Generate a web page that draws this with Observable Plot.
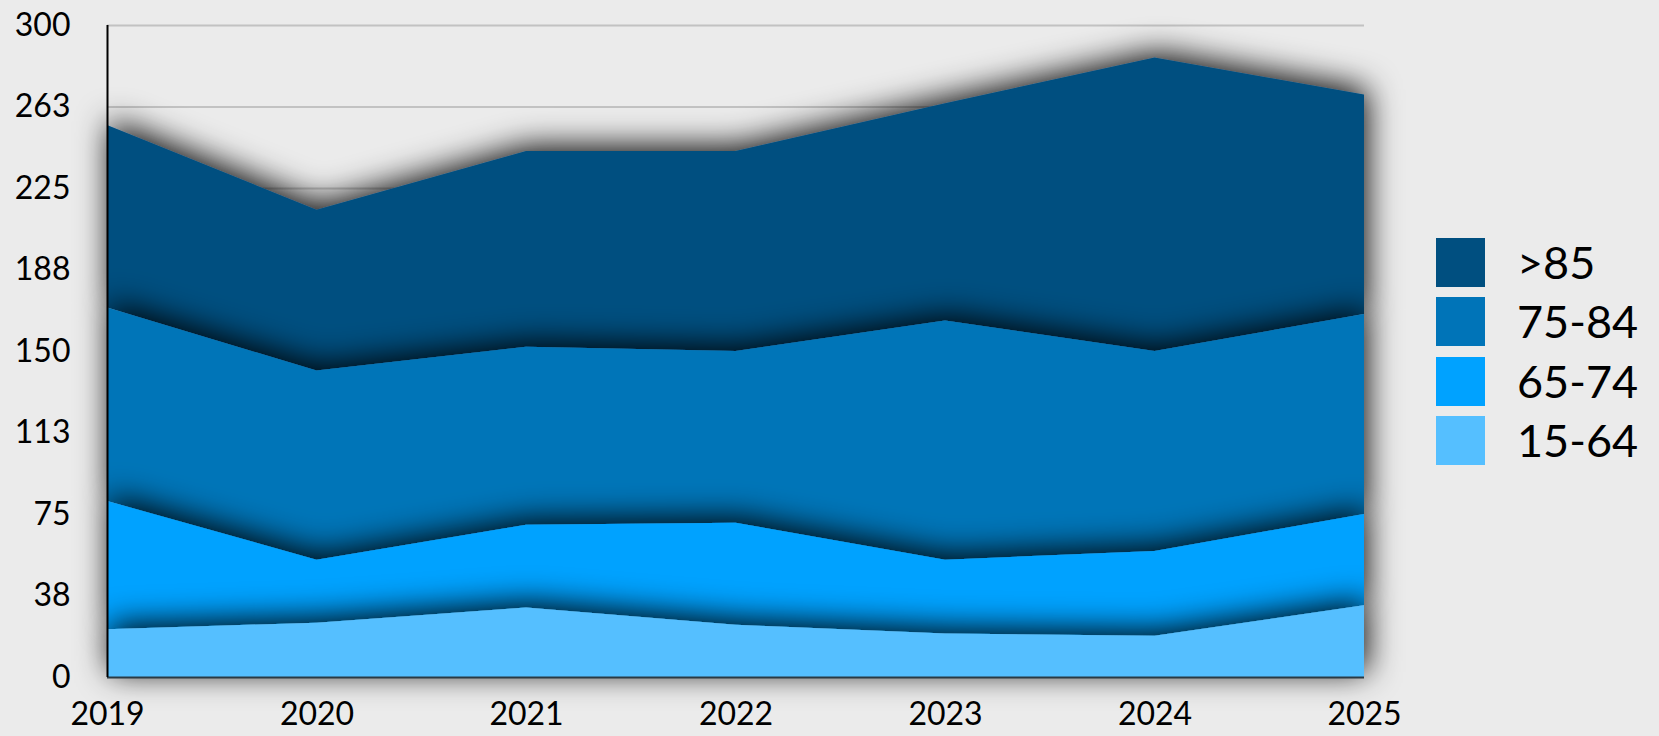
<!DOCTYPE html>
<html>
<head>
<meta charset="utf-8">
<script src="https://cdn.jsdelivr.net/npm/d3@7"></script>
<script src="https://cdn.jsdelivr.net/npm/@observablehq/plot@0.6"></script>
<style>
  html, body { margin: 0; padding: 0; background: #ebebeb; }
  #wrap { position: relative; width: 1659px; height: 736px; overflow: hidden; font-family: Lato, "Noto Sans", sans-serif; }
  #chart { position: absolute; left: 0; top: 0; }
  .lg { position: absolute; left: 1436px; display: flex; align-items: center; }
  .lg .sw { width: 49px; height: 49px; }
  .lg .tx { margin-left: 32px; font-size: 45px; color: #000; line-height: 49px; }
</style>
</head>
<body>
<div id="wrap"><div id="chart"></div><div id="legend"></div></div>
<script>
// Data
const years = [2019, 2020, 2021, 2022, 2023, 2024, 2025];
const series = [">85", "75-84", "65-74", "15-64"];
const v85plus = [84, 74, 90, 92, 100, 135, 101];
const v75_84 = [89, 87, 82, 79, 110, 92, 92];
const v65_74 = [59, 29, 38, 47, 34, 39, 42];
const v15_64 = [22, 25, 32, 24, 20, 19, 33];
const colors = ["#004f80", "#0074b8", "#00a2ff", "#55bfff"];
const yTicks = [0, 37.5, 75, 112.5, 150, 187.5, 225, 262.5, 300];

// stack bottom-up: 15-64, 65-74, 75-84, >85
const valuesBySeries = {">85": v85plus, "75-84": v75_84, "65-74": v65_74, "15-64": v15_64};
const stackOrder = ["15-64", "65-74", "75-84", ">85"];
const lower = {}, upper = {};
{
  let run = years.map(() => 0);
  for (const s of stackOrder) {
    lower[s] = run.slice();
    run = run.map((r, i) => r + valuesBySeries[s][i]);
    upper[s] = run.slice();
  }
}
// draw bands from the top series down so each band's shadow falls on the band above it
const areaMarks = series.map((s, k) => {
  const rows = years.map((y, i) => ({year: y, lo: lower[s][i], hi: upper[s][i]}));
  return Plot.areaY(rows, {x: "year", y1: "lo", y2: "hi", fill: colors[k], curve: "linear"});
});

const svg = Plot.plot({
  width: 1400,
  height: 736,
  marginLeft: 107,
  marginRight: 36,
  marginTop: 25,
  marginBottom: 59,
  style: {background: "transparent", fontFamily: "Lato, 'Noto Sans', sans-serif", fontSize: "32px", color: "#000", overflow: "visible"},
  x: {type: "linear", domain: [2019, 2025], ticks: years, tickFormat: d => String(d), tickSize: 0, tickPadding: 25, label: null},
  y: {domain: [0, 300], ticks: yTicks, tickFormat: d => String(Math.round(d)), tickSize: 0, tickPadding: 37, label: null},
  marks: [
    Plot.ruleY(yTicks.slice(1), {stroke: "#c2c2c2", strokeWidth: 2}),
    ...areaMarks,
    Plot.ruleY([0], {stroke: "#2a3a44", strokeWidth: 2}),
    Plot.ruleX([2019], {stroke: "#000", strokeWidth: 2})
  ]
});

// drop shadow filter
const ns = "http://www.w3.org/2000/svg";
const defs = document.createElementNS(ns, "defs");
defs.innerHTML = '<filter id="ds" filterUnits="userSpaceOnUse" x="-100" y="-100" width="1600" height="936">' +
  '<feDropShadow dx="3" dy="-5" stdDeviation="16" flood-color="#000" flood-opacity="0.95"/></filter>';
svg.insertBefore(defs, svg.firstChild);
d3.select(svg).selectAll('g[aria-label="area"]').attr("filter", "url(#ds)");

document.getElementById("chart").appendChild(svg);

// legend
const legend = document.getElementById("legend");
const tops = [238, 297, 357, 416];
series.forEach((s, k) => {
  const item = document.createElement("div");
  item.className = "lg";
  item.style.top = tops[k] + "px";
  item.innerHTML = `<div class="sw" style="background:${colors[k]}"></div><div class="tx">${s.replace(">", "&gt;")}</div>`;
  legend.appendChild(item);
});
</script>
</body>
</html>
